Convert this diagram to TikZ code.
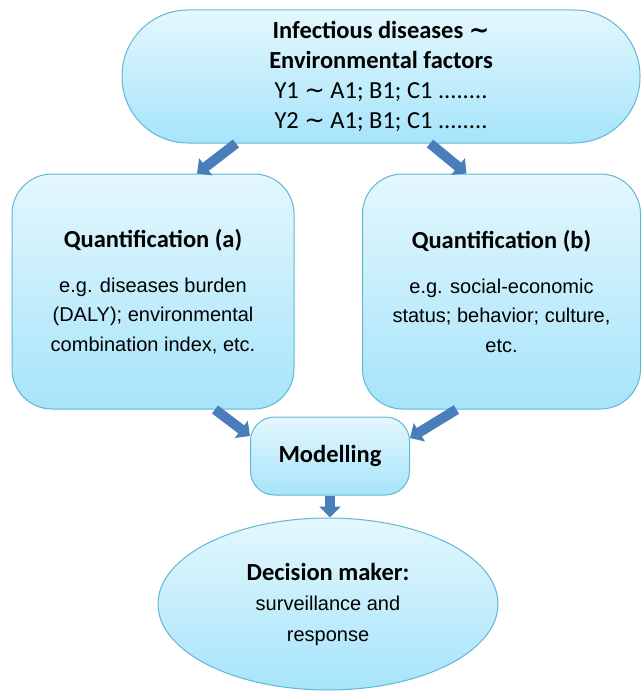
\documentclass[tikz,border=0pt]{standalone}
\usepackage{fontspec}
\setmainfont{Carlito}
\newfontfamily\arialfont{Liberation Sans}
\newfontfamily\symfont{DejaVu Sans}
\usetikzlibrary{arrows.meta,shapes.geometric}
\definecolor{boxtop}{RGB}{228,247,253}
\definecolor{boxbot}{RGB}{166,228,250}
\definecolor{boxline}{RGB}{98,182,214}
\definecolor{arrowblue}{RGB}{74,126,187}
\newcommand{\wave}{{\symfont\char"223C}}
\begin{document}
\begin{tikzpicture}[x=1pt,y=-1pt,
	bubble/.style={draw=boxline,line width=1pt,top color=boxtop,bottom color=boxbot,align=center,text=black,inner sep=0pt},
	fatarrow/.style={draw=arrowblue,line width=10pt,-{Triangle[width=21pt,length=11pt]}}]
	\useasboundingbox (0,0) rectangle (642,693);
	% nodes
	\node[bubble,rounded corners=66pt,minimum width=518pt,minimum height=133pt,font=\fontsize{24.5}{30}\selectfont] (cause) at (381,76.5) {\textbf{Infectious diseases \wave}\\\textbf{Environmental factors}\\Y1 \wave{} A1; B1; C1 ........\\Y2 \wave{} A1; B1; C1 ........};
	\node[bubble,rounded corners=40pt,minimum width=282pt,minimum height=235pt,font=\fontsize{20}{29.5}\selectfont] (quanta) at (153,291.5) {{\fontsize{24.5}{28}\selectfont\bfseries Quantification (a)}\\[15pt]\arialfont e.g. diseases burden\\\arialfont(DALY); environmental\\\arialfont combination index, etc.};
	\node[bubble,rounded corners=40pt,minimum width=278pt,minimum height=235pt,font=\fontsize{20}{29.5}\selectfont] (quantb) at (501.5,291.5) {{\fontsize{24.5}{28}\selectfont\bfseries Quantification (b)}\\[15pt]\arialfont e.g. social-economic\\\arialfont status; behavior; culture,\\\arialfont etc.};
	\node[bubble,rounded corners=24pt,minimum width=159pt,minimum height=78pt,font=\fontsize{24.5}{28}\selectfont\bfseries] (model) at (330,456) {Modelling};
	\node[bubble,ellipse,minimum width=340pt,minimum height=172pt,font=\fontsize{20}{30.5}\selectfont] (decide) at (328,604) {\textbf{\fontsize{24.5}{30.5}\selectfont Decision maker:}\\\arialfont surveillance and\\\arialfont response};
	% arrows
	\draw[fatarrow] ([xshift=-145pt]cause.south) -- ([xshift=44pt]quanta.north);
	\draw[fatarrow] ([xshift=49pt]cause.south) -- ([xshift=-35pt]quantb.north);
	\draw[fatarrow] ([xshift=62pt]quanta.south) -- ([yshift=20pt]model.west);
	\draw[fatarrow] ([xshift=-45pt]quantb.south) -- ([yshift=18pt]model.east);
	\draw[fatarrow] (model.south) -- (model.south |- decide.north);
\end{tikzpicture}
\end{document}
